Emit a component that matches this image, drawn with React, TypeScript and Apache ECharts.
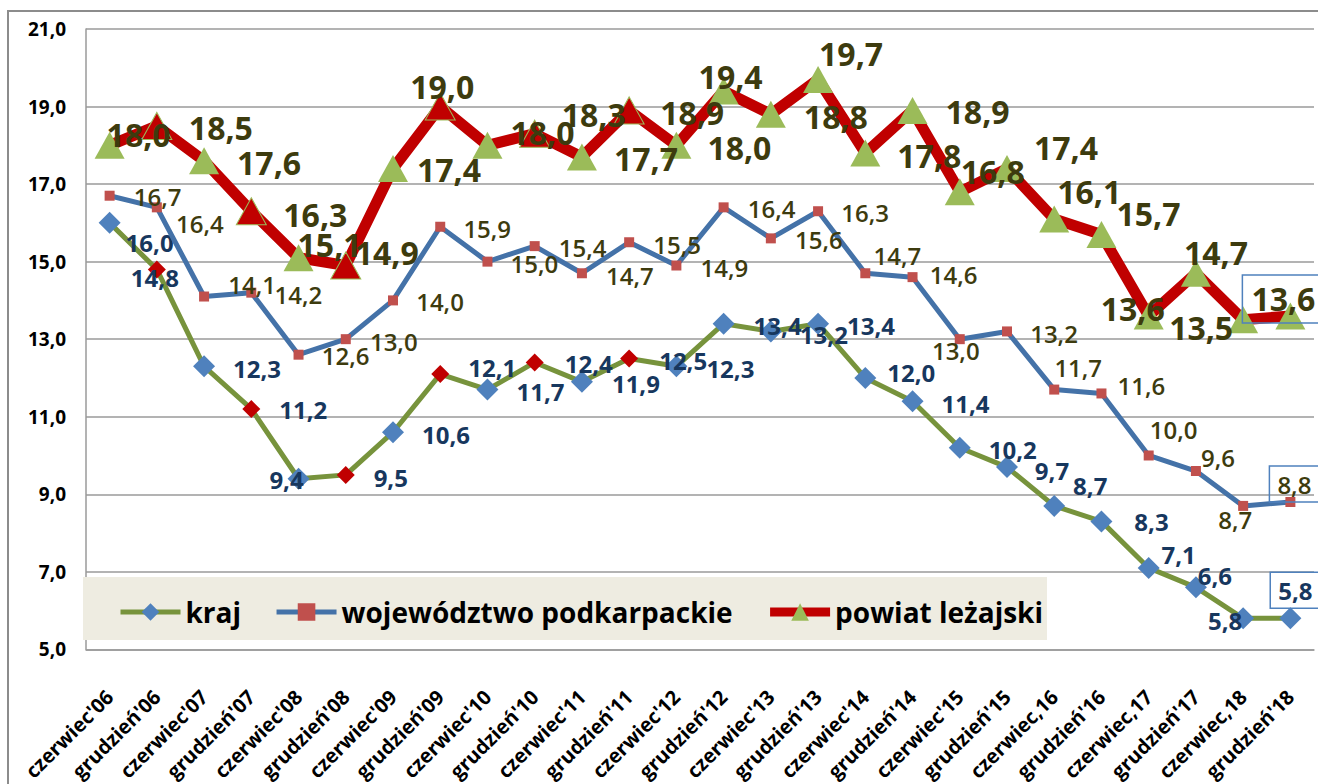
import React, { useEffect, useRef } from "react";
import * as echarts from "echarts";

const categories = [
  "czerwiec'06", "grudzień'06", "czerwiec'07", "grudzień'07", "czerwiec'08", "grudzień'08",
  "czerwiec'09", "grudzień'09", "czerwiec'10", "grudzień'10", "czerwiec'11", "grudzień'11",
  "czerwiec'12", "grudzień'12", "czerwiec'13", "grudzień'13", "czerwiec'14", "grudzień'14",
  "czerwiec'15", "grudzień'15", "czerwiec,16", "grudzień'16", "czerwiec,17", "grudzień'17",
  "czerwiec,18", "grudzień'18",
];

const kraj = [16.0, 14.8, 12.3, 11.2, 9.4, 9.5, 10.6, 12.1, 11.7, 12.4, 11.9, 12.5, 12.3, 13.4, 13.2, 13.4, 12.0, 11.4, 10.2, 9.7, 8.7, 8.3, 7.1, 6.6, 5.8, 5.8];
const wojewodztwo = [16.7, 16.4, 14.1, 14.2, 12.6, 13.0, 14.0, 15.9, 15.0, 15.4, 14.7, 15.5, 14.9, 16.4, 15.6, 16.3, 14.7, 14.6, 13.0, 13.2, 11.7, 11.6, 10.0, 9.6, 8.7, 8.8];
const powiat = [18.0, 18.5, 17.6, 16.3, 15.1, 14.9, 17.4, 19.0, 18.0, 18.3, 17.7, 18.9, 18.0, 19.4, 18.8, 19.7, 17.8, 18.9, 16.8, 17.4, 16.1, 15.7, 13.6, 14.7, 13.5, 13.6];

const seriesNames = ["kraj", "województwo podkarpackie", "powiat leżajski"];
const yTicks = { min: 5, max: 21, interval: 2 };

// highlighted (red) markers
const RED_IDX = [1, 3, 5, 7, 9, 11];

// label offsets (styling only)
const krajOff = [[40, 20], [-2, 8], [53, 2], [52, 1], [-12, 1], [45, 3], [53, 2], [52, -7], [53, 2], [54, 1], [54, 2], [54, 2], [54, 2], [54, 2], [53, 3], [53, 2], [46, -5], [53, 2], [53, 2], [45, 3], [36, -20], [50, 0], [30, -13], [19, -12], [-18, 2], [5, -28]];
const wojOff = [[48, 1], [43, 16], [48, -12], [47, 2], [47, 1], [48, 2], [47, 1], [47, 2], [47, 2], [48, 1], [48, 2], [48, 2], [48, 2], [48, 1], [48, 1], [47, 1], [32, -18], [41, -3], [-4, 11], [47, 2], [24, -22], [40, -8], [25, -26], [22, -14], [-8, 14], [4, -18]];
const powOff = [[29, -11], [64, 2], [65, 2], [64, 3], [31, -13], [41, -13], [56, 1], [2, -20], [55, -13], [59, -19], [64, 2], [63, 2], [63, 2], [7, -15], [65, 2], [33, -26], [64, 2], [65, 1], [33, -20], [59, -21], [35, -27], [47, -21], [-16, -7], [20, -21], [-42, 8], [-7, -17]];

const FONT = "'Open Sans', sans-serif";
const fmt = (v: number) => v.toFixed(1).replace(".", ",");

export default function App() {
  const ref = useRef<HTMLDivElement>(null);

  useEffect(() => {
    if (!ref.current) return;
    const chart = echarts.init(ref.current, undefined, { renderer: "svg" });
    const last = categories.length - 1;
    const box = (pad: number[]) => ({ borderColor: "#4F81BD", borderWidth: 1.5, padding: pad });

    const option: any = {
      animation: false,
      backgroundColor: "#ffffff",
      grid: { left: 86, right: 4, top: 29, bottom: 133, containLabel: false },
      graphic: [
        {
          type: "rect",
          silent: true,
          z: 0,
          shape: { x: 8, y: 11, width: 1340, height: 820 },
          style: { fill: "none", stroke: "#8c8c8c", lineWidth: 2 },
        },
        {
          type: "rect",
          silent: true,
          z: 1,
          shape: { x: 83, y: 577, width: 964, height: 63 },
          style: { fill: "#EEECE1" },
        },
      ],
      legend: {
        data: [
          { name: seriesNames[0], lineStyle: { width: 5 } },
          { name: seriesNames[1], lineStyle: { width: 5 } },
          { name: seriesNames[2], lineStyle: { width: 9 } },
        ],
        left: 113,
        top: 593,
        itemWidth: 60,
        itemHeight: 22,
        itemGap: 33,
        textStyle: { fontFamily: FONT, fontSize: 28, fontWeight: "bold", color: "#000" },
        z: 10,
      },
      xAxis: {
        type: "category",
        data: categories,
        boundaryGap: true,
        axisLine: { lineStyle: { color: "#9a9a9a", width: 1.5 } },
        axisTick: { show: false },
        axisLabel: {
          rotate: 45,
          interval: 0,
          margin: 44,
          fontFamily: FONT,
          fontSize: 20,
          fontWeight: "bold",
          color: "#000",
        },
      },
      yAxis: {
        type: "value",
        min: yTicks.min,
        max: yTicks.max,
        interval: yTicks.interval,
        axisLine: { show: true, lineStyle: { color: "#9a9a9a", width: 1.5 } },
        axisTick: { show: false },
        splitLine: { lineStyle: { color: "#9a9a9a", width: 1.5 } },
        axisLabel: {
          margin: 20,
          fontFamily: FONT,
          fontSize: 19,
          fontWeight: "bold",
          color: "#000",
          formatter: (v: number) => fmt(v),
        },
      },
      series: [
        {
          name: seriesNames[0],
          type: "line",
          z: 2,
          symbol: "diamond",
          symbolSize: 22,
          lineStyle: { color: "#77933C", width: 5 },
          itemStyle: { color: "#4F81BD" },
          label: {
            show: true,
            position: "inside",
            fontFamily: FONT,
            fontSize: 24,
            fontWeight: "bold",
            color: "#17375E",
            formatter: (p: any) => fmt(p.value),
          },
          data: kraj.map((v, i) => ({
            value: v,
            symbolSize: RED_IDX.includes(i) ? 18 : 22,
            itemStyle: { color: RED_IDX.includes(i) ? "#C00000" : "#4F81BD" },
            label: { offset: krajOff[i], ...(i === last ? box([6, 8]) : {}) },
          })),
        },
        {
          name: seriesNames[1],
          type: "line",
          z: 3,
          symbol: "rect",
          symbolSize: 10,
          lineStyle: { color: "#4472A8", width: 5 },
          itemStyle: { color: "#C0504D" },
          label: {
            show: true,
            position: "inside",
            fontFamily: FONT,
            fontSize: 24,
            fontWeight: 600,
            color: "#3D3B0E",
            formatter: (p: any) => fmt(p.value),
          },
          data: wojewodztwo.map((v, i) => ({
            value: v,
            label: { offset: wojOff[i], ...(i === last ? box([6, 8]) : {}) },
          })),
        },
        {
          name: seriesNames[2],
          type: "line",
          z: 4,
          symbol: "triangle",
          symbolSize: [30, 27],
          lineStyle: { color: "#C00000", width: 11 },
          itemStyle: { color: "#9BBB59" },
          label: {
            show: true,
            position: "inside",
            fontFamily: FONT,
            fontSize: 32,
            fontWeight: "bold",
            color: "#3D3B0E",
            formatter: (p: any) => fmt(p.value),
          },
          data: powiat.map((v, i) => ({
            value: v,
            itemStyle: RED_IDX.includes(i)
              ? { color: "#C00000", borderColor: "#9BBB59", borderWidth: 1 }
              : { color: "#9BBB59" },
            label: { offset: powOff[i], ...(i === last ? box([8, 9]) : {}) },
          })),
        },
      ],
    };

    chart.setOption(option);
    return () => chart.dispose();
  }, []);

  return (
    <div
      ref={ref}
      style={{ position: "fixed", left: 0, top: 0, width: 1318, height: 784, background: "#fff" }}
    />
  );
}
